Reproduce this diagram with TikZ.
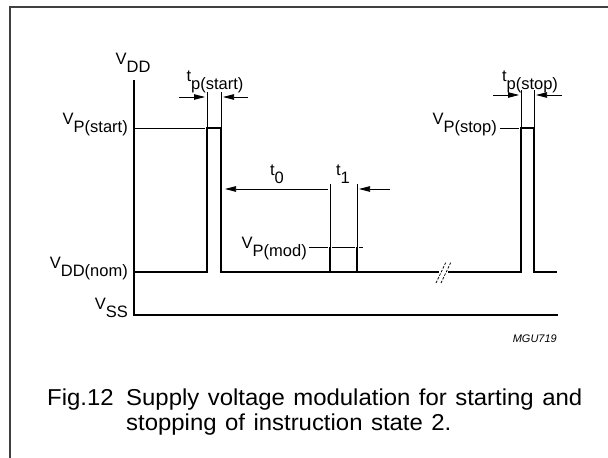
\documentclass[tikz,border=0pt]{standalone}
\usepackage{fontspec}
\setmainfont{Liberation Sans}
\newfontfamily\capfont{Liberation Sans}[FakeStretch=1.04]
\usetikzlibrary{arrows.meta,positioning}
\newcommand{\dn}[1]{\raisebox{-0.5em}{#1}}
\newcommand{\capsize}{\capfont\fontsize{23}{27}\selectfont\spaceskip=8.5pt\relax}
\tikzset{
  frame/.style={draw=black!75, line width=1.5pt},
  axis/.style={draw, line width=1.1pt},
  signal/.style={draw, line width=2pt, line join=miter},
  guide/.style={draw, line width=0.75pt},
  dimarrow/.style={-{Triangle[length=11pt,width=5.5pt]}, line width=0.75pt},
  breakmark/.style={draw, line width=0.75pt, dash pattern=on 2.5pt off 1.5pt},
  lbl/.style={font=\fontsize{16.5}{19}\selectfont, inner sep=0pt},
  figcap/.style={font=\capsize, inner sep=0pt}
}
\begin{document}
\begin{tikzpicture}[x=1pt,y=-1pt]
  \useasboundingbox (0,0) rectangle (608,458);
  \draw[frame] (10,458) -- (10,7) -- (608,7);

  % axes
  \coordinate (top) at (134,80);
  \coordinate (org) at (134,315);
  \coordinate (ssend) at (558,315);
  \draw[axis] (top) -- (org) -- (ssend);

  % pulse corners
  \coordinate (sa) at (207,128);
  \coordinate (sb) at (221,128);
  \coordinate (pa) at (521,128);
  \coordinate (pb) at (534,128);
  \coordinate (ma) at (330,247);
  \coordinate (mb) at (357,247);

  % waveform
  \draw[signal] (134,272) -- (sa |- 0,272) -- (sa) -- (sb) -- (sb |- 0,272) -- (439,272);
  \draw[signal] (448,272) -- (pa |- 0,272) -- (pa) -- (pb) -- (pb |- 0,272) -- (557,272);
  \draw[signal] (ma |- 0,272) -- (ma);
  \draw[signal] (mb |- 0,272) -- (mb);
  \draw[breakmark] (436,283) -- (446,262);
  \draw[breakmark] (441,283) -- (451,262);

  % levels
  \draw[guide] (134,128) -- (205,128);
  \draw[guide] (500,128) -- (519,128);
  \draw[guide] (309,247) -- (328,247);
  \draw[guide] (332,247) -- (355,247);
  \draw[guide] (359,247) -- (363,247);

  % extension lines
  \draw[guide] (sa) -- ++(0,-36);
  \draw[guide] (sb) -- ++(0,-36);
  \draw[guide] (pa) -- ++(0,-38);
  \draw[guide] (pb) -- ++(0,-38);
  \draw[guide] (ma) -- ++(0,-63);
  \draw[guide] (mb) -- ++(0,-63);

  % timing arrows
  \draw[dimarrow] (179,97) -- (205,97);
  \draw[dimarrow] (248,97) -- (223,97);
  \draw[dimarrow] (493,95) -- (519,95);
  \draw[dimarrow] (562,95) -- (536,95);
  \draw[dimarrow, {Triangle[length=11pt,width=5.5pt]}-] (225,189) -- (328,189);
  \draw[dimarrow] (390,189) -- (359,189);

  % labels
  \node[lbl, anchor=base] (vdd) at (133,64) {V\dn{DD}};
  \node[lbl, anchor=base east] (vps) at (128,124) {V\dn{P(start)}};
  \node[lbl, anchor=base east] (vnom) at (128,268) {V\dn{DD(nom)}};
  \node[lbl, anchor=base east] (vss) at (128,309) {V\dn{SS}};
  \node[lbl, anchor=base] (tps) at (215,81) {t\dn{p(start)}};
  \node[lbl, anchor=base] (tpp) at (530,81) {t\dn{p(stop)}};
  \node[lbl, anchor=base east] (vpp) at (497,124) {V\dn{P(stop)}};
  \node[lbl, anchor=base east] (vpm) at (307,248) {V\dn{P(mod)}};
  \node[lbl, anchor=base] (tzero) at (277,175) {t\dn{0}};
  \node[lbl, anchor=base] (tone) at (343,175) {t\dn{1}};
  \node[anchor=base east, inner sep=0pt, font=\fontsize{11}{13}\selectfont\itshape] (code) at (557,342) {MGU719};

  % caption
  \node[figcap, anchor=base west] (fig) at (47,405) {Fig.12};
  \node[figcap, anchor=base west] (cap1) at (126,405) {Supply voltage modulation for starting and};
  \node[figcap, anchor=base west] (cap2) at (126,430) {stopping of instruction state 2.};
\end{tikzpicture}
\end{document}
